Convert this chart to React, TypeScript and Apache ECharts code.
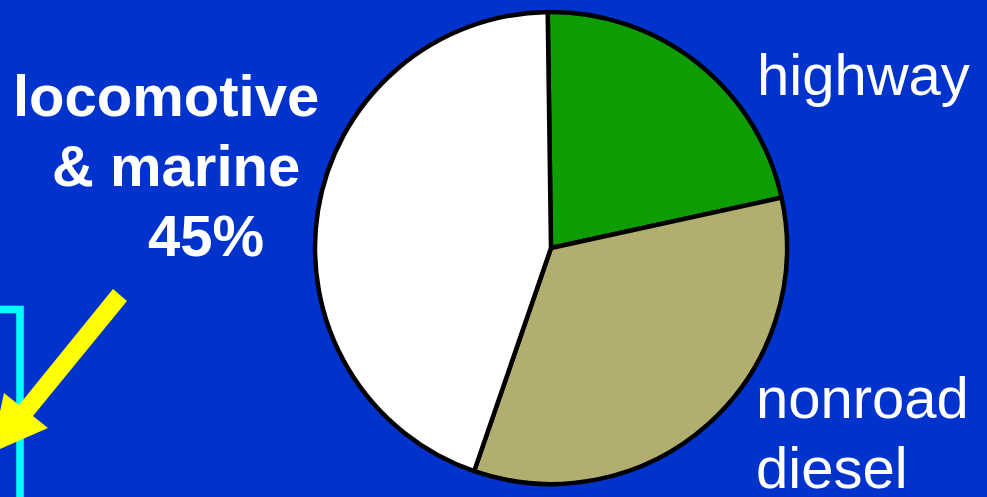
import React, { useEffect, useRef } from "react";
import * as echarts from "echarts";

const categories = ["highway", "nonroad diesel", "locomotive & marine"];
const shares = [21.8, 33.7, 44.5];
const sliceColors = ["#0F9D04", "#B2AE70", "#FFFFFF"];
const leftLabel = ["locomotive", "& marine", "45%"];
const highwayLabel = ["highway"];
const nonroadLabel = ["nonroad", "diesel"];

export default function App() {
  const ref = useRef<HTMLDivElement>(null);
  useEffect(() => {
    document.body.style.margin = "0";
    const chart = echarts.init(ref.current!, null, { renderer: "svg" });
    const font = "Liberation Sans, Arial, sans-serif";
    const txt = (text: string, x: number, baseline: number, bold: boolean) => ({
      type: "text",
      x,
      y: baseline - 20,
      z: 10,
      style: {
        text,
        fill: "#FFFFFF",
        font: `${bold ? "bold " : ""}58px ${font}`,
        lineHeight: 40,
        align: "left",
        verticalAlign: "middle",
      },
    });
    chart.setOption({
      animation: false,
      backgroundColor: "#0033CC",
      series: [
        {
          type: "pie",
          center: [551, 248],
          radius: [0, 236],
          startAngle: 90.8,
          clockwise: true,
          label: { show: false },
          labelLine: { show: false },
          emphasis: { disabled: true },
          itemStyle: { borderColor: "#000000", borderWidth: 4.5 },
          data: categories.map((name, i) => ({
            name,
            value: shares[i],
            itemStyle: { color: sliceColors[i] },
          })),
        },
      ],
      graphic: [
        {
          type: "rect",
          z: 5,
          shape: { x: -20, y: 309.5, width: 40, height: 300 },
          style: { fill: "none", stroke: "#00FFFF", lineWidth: 7.5 },
        },
        {
          type: "polygon",
          z: 6,
          shape: {
            points: [
              [113, 289],
              [127, 301],
              [33, 416],
              [48, 428],
              [-9, 453],
              [4, 393],
              [19, 405],
            ],
          },
          style: { fill: "#FFFF00", stroke: "none" },
        },
        txt(leftLabel[0], 13, 115, true),
        txt(leftLabel[1], 52, 185, true),
        txt(leftLabel[2], 148, 255, true),
        txt(highwayLabel[0], 757, 94, false),
        txt(nonroadLabel[0], 756, 417, false),
        txt(nonroadLabel[1], 756, 487, false),
      ],
    });
    return () => chart.dispose();
  }, []);
  return (
    <div
      ref={ref}
      style={{ position: "fixed", left: 0, top: 0, width: 987, height: 497 }}
    />
  );
}
